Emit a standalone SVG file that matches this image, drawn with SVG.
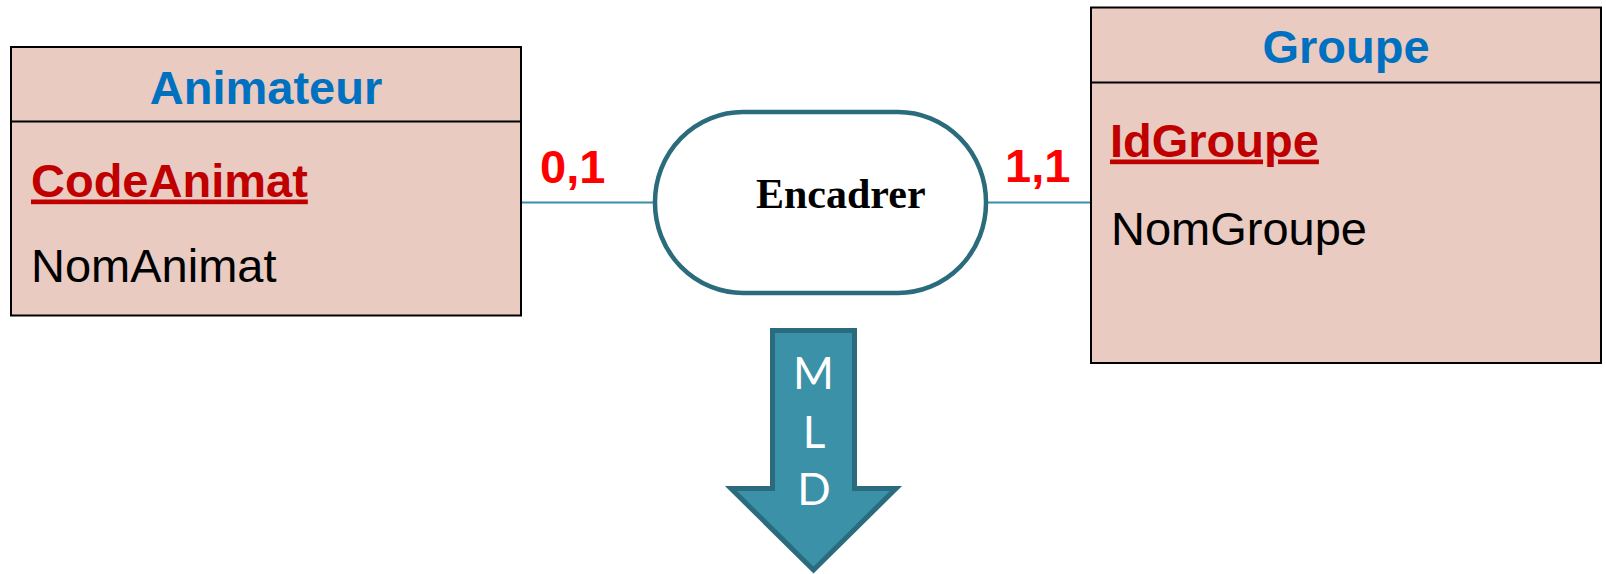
<svg xmlns="http://www.w3.org/2000/svg" width="1606" height="574" viewBox="0 0 1606 574">
<style>
.box{fill:#E9CBC1;stroke:#000;stroke-width:2}
.div{stroke:#000;stroke-width:2}
.title{font-family:"Liberation Sans",Arial,sans-serif;font-weight:bold;font-size:47px;fill:#0070C0;text-anchor:middle}
.key{font-family:"Liberation Sans",Arial,sans-serif;font-weight:bold;font-size:47px;fill:#C00000;text-decoration:underline}
.attr{font-family:"Liberation Sans",Arial,sans-serif;font-size:47px;fill:#000}
.card{font-family:"Liberation Sans",Arial,sans-serif;font-weight:bold;font-size:47px;fill:#FF0000}
.link{stroke:#3A8FA8;stroke-width:2;fill:none}
.rel{fill:#fff;stroke:#2A6B7C;stroke-width:4.5}
.relt{font-family:"Liberation Serif","Times New Roman",serif;font-weight:bold;font-size:42px;fill:#000}
.arrow{fill:#3A91A8;stroke:#2A6C7D;stroke-width:5;stroke-linejoin:miter}
.mld{font-family:Lato,"Liberation Sans",sans-serif;font-size:44px;fill:#fff;text-anchor:middle}
</style>
<rect width="1606" height="574" fill="#fff"/>
<g id="connectors">
<line class="link" x1="521" y1="202.5" x2="655" y2="202.5"/>
<line class="link" x1="986" y1="202.5" x2="1091" y2="202.5"/>
<text class="card" x="540" y="183">0,1</text>
<text class="card" x="1005" y="182">1,1</text>
</g>
<g id="animateur">
<rect class="box" x="11" y="47" width="510" height="268.5"/>
<line class="div" x1="11" y1="121.5" x2="521" y2="121.5"/>
<text class="title" x="266" y="104">Animateur</text>
<text class="key" x="31" y="196.5">CodeAnimat</text>
<text class="attr" x="31" y="282">NomAnimat</text>
</g>
<g id="groupe">
<rect class="box" x="1091" y="7.5" width="510" height="355.5"/>
<line class="div" x1="1091" y1="82.5" x2="1601" y2="82.5"/>
<text class="title" x="1346" y="63">Groupe</text>
<text class="key" x="1110" y="156.5">IdGroupe</text>
<text class="attr" x="1111" y="245">NomGroupe</text>
</g>
<g id="encadrer">
<rect class="rel" x="655" y="112" width="331" height="181" rx="88" ry="90"/>
<text class="relt" x="756" y="208">Encadrer</text>
</g>
<g id="mld-arrow">
<polygon class="arrow" points="772.5,330.5 854.5,330.5 854.5,488.5 896,488.5 813.5,570 731,488.5 772.5,488.5"/>
<text class="mld" x="813.5" y="389">M</text>
<text class="mld" x="814" y="448">L</text>
<text class="mld" x="814" y="505">D</text>
</g>
</svg>
